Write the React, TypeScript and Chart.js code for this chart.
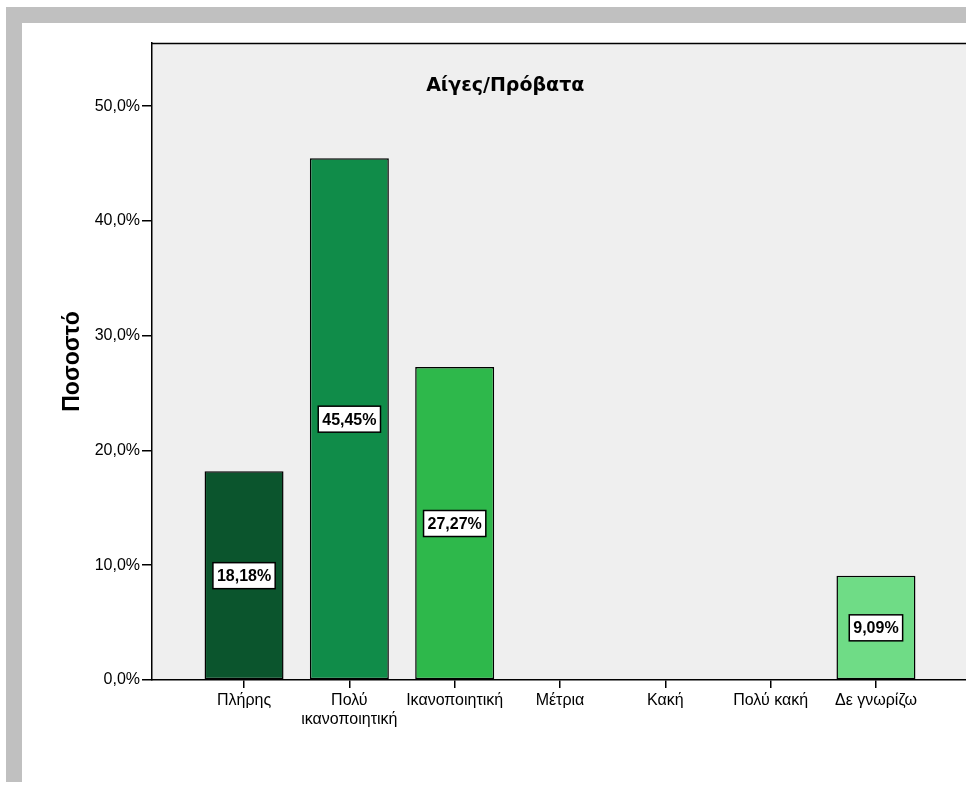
import React, { useEffect, useRef } from "react";
import { Chart, registerables } from "chart.js";

Chart.register(...registerables);

const chartTitle = "Αίγες/Πρόβατα";
const yAxisTitle = "Ποσοστό";
const categories: (string | string[])[] = [
  "Πλήρης",
  ["Πολύ", "ικανοποιητική"],
  "Ικανοποιητική",
  "Μέτρια",
  "Κακή",
  "Πολύ κακή",
  "Δε γνωρίζω",
];
const percentages = [18.18, 45.45, 27.27, 0, 0, 0, 9.09];
const barColors = ["#0b552d", "#108c49", "#2eb84b", "#2eb84b", "#2eb84b", "#2eb84b", "#6fdc86"];
const yTicks = [0, 10, 20, 30, 40, 50];

const fmt = (v: number, d: number) => v.toFixed(d).replace(".", ",") + "%";

export default function App() {
  const ref = useRef<HTMLCanvasElement | null>(null);

  useEffect(() => {
    if (!ref.current) return;
    const bgPlugin = {
      id: "plotBg",
      beforeDraw(chart: any) {
        const { ctx, chartArea } = chart;
        ctx.save();
        ctx.fillStyle = "#efefef";
        ctx.fillRect(chartArea.left, chartArea.top, chartArea.right - chartArea.left, chartArea.bottom - chartArea.top);
        ctx.restore();
      },
      afterDraw(chart: any) {
        const { ctx, chartArea } = chart;
        ctx.save();
        ctx.strokeStyle = "#000";
        ctx.lineWidth = 1.5;
        ctx.beginPath();
        ctx.moveTo(chartArea.left, chartArea.top + 0.5);
        ctx.lineTo(chartArea.right, chartArea.top + 0.5);
        ctx.stroke();

        // title
        const xs = chart.scales.x;
        const ys = chart.scales.y;
        ctx.fillStyle = "#000";
        ctx.font = "bold 19px 'DejaVu Sans'";
        ctx.textAlign = "center";
        ctx.textBaseline = "middle";
        ctx.fillText(chartTitle, xs.getPixelForValue(2.48), ys.getPixelForValue(51.75));

        // data labels
        const meta = chart.getDatasetMeta(0);
        ctx.font = "bold 16px 'Liberation Sans', Arial";
        meta.data.forEach((bar: any, i: number) => {
          const v = percentages[i];
          if (!v) return;
          const text = fmt(v, 2);
          const cx = bar.x;
          const cy = ys.getPixelForValue(v / 2);
          const w = ctx.measureText(text).width + 8;
          const h = 26;
          ctx.fillStyle = "#fff";
          ctx.fillRect(cx - w / 2, cy - h / 2, w, h);
          ctx.strokeStyle = "#000";
          ctx.lineWidth = 1.5;
          ctx.strokeRect(cx - w / 2, cy - h / 2, w, h);
          ctx.fillStyle = "#000";
          ctx.fillText(text, cx, cy + 1);
        });
        ctx.restore();
      },
    };

    const chart = new Chart(ref.current, {
      type: "bar",
      data: {
        datasets: [
          {
            data: percentages.map((v, i) => ({ x: i, y: v })),
            backgroundColor: barColors,
            borderColor: "#000",
            borderWidth: 1.5,
            borderSkipped: false,
            barPercentage: 0.75,
            categoryPercentage: 1,
          },
        ],
      },
      options: {
        responsive: false,
        animation: false,
        devicePixelRatio: 1,
        layout: { padding: { left: 0, top: 43, right: 32, bottom: 0 } },
        plugins: { legend: { display: false }, tooltip: { enabled: false }, title: { display: false } },
        scales: {
          x: {
            type: "linear",
            offset: false,
            min: -0.874,
            max: 6.874,
            afterBuildTicks: (s: any) => {
              s.ticks = categories.map((_, i) => ({ value: i }));
            },
            afterFit: (s: any) => {
              s.height = 116;
            },
            grid: { offset: false, drawOnChartArea: false, drawTicks: true, tickLength: 8, color: "#000", lineWidth: 1.5 },
            border: { color: "#000", width: 1.5 },
            ticks: {
              autoSkip: false,
              maxRotation: 0,
              padding: 3,
              color: "#000",
              font: { family: "'Liberation Sans', Arial", size: 16 },
              callback: (v: any) => categories[Math.round(Number(v))] as any,
            },
          },
          y: {
            min: 0,
            max: 55.5,
            afterBuildTicks: (s: any) => {
              s.ticks = yTicks.map((v) => ({ value: v }));
            },
            afterFit: (s: any) => {
              s.width = 152;
            },
            grid: { drawOnChartArea: false, drawTicks: true, tickLength: 10, color: "#000", lineWidth: 1.5 },
            border: { color: "#000", width: 1.5 },
            ticks: {
              padding: 2,
              color: "#000",
              font: { family: "'Liberation Sans', Arial", size: 16 },
              callback: (v: any) => fmt(Number(v), 1),
            },
            title: {
              display: true,
              text: yAxisTitle,
              color: "#000",
              padding: { top: 59, bottom: 0 },
              font: { family: "'Liberation Sans', Arial", size: 23, weight: "bold" },
            },
          },
        },
      },
      plugins: [bgPlugin],
    } as any);
    return () => chart.destroy();
  }, []);

  return (
    <div style={{ position: "fixed", left: 0, top: 0, width: 966, height: 796, overflow: "hidden", background: "#fff" }}>
      <div style={{ position: "absolute", left: 6, top: 7, width: 960, height: 16, background: "#c0c0c0" }} />
      <div style={{ position: "absolute", left: 6, top: 7, width: 16, height: 775, background: "#c0c0c0" }} />
      <canvas ref={ref} width={1000} height={796} style={{ position: "absolute", left: 0, top: 0, width: 1000, height: 796 }} />
    </div>
  );
}
